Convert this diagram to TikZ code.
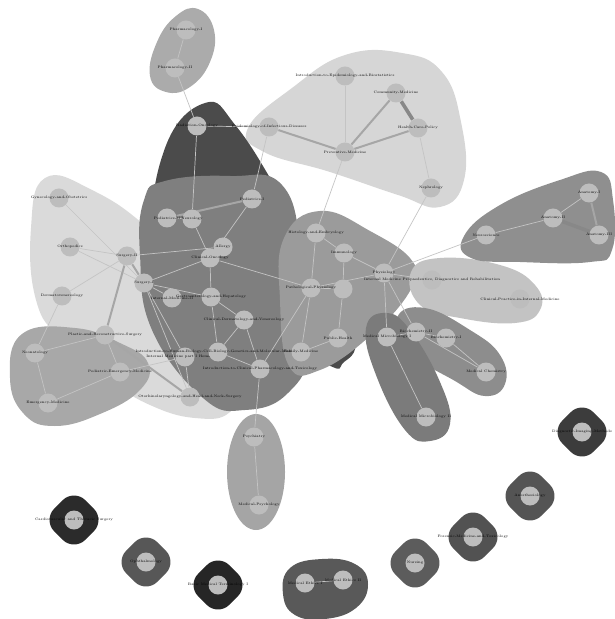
\documentclass[tikz,border=0pt]{standalone}
\usepackage{tikz}
\usetikzlibrary{positioning,shapes.geometric}
\definecolor{vtxgray}{HTML}{BDBDBD}
\definecolor{edgelight}{HTML}{C4C4C4}
\definecolor{edgemid}{HTML}{A6A6A6}
\definecolor{edgedark}{HTML}{888888}
\definecolor{blobPharm}{HTML}{ABABAB}
\definecolor{blobHealth}{HTML}{D6D6D6}
\definecolor{blobDark}{HTML}{4B4B4B}
\definecolor{blobSurg}{HTML}{DADADA}
\definecolor{blobClin}{HTML}{7F7F7F}
\definecolor{blobPhys}{HTML}{9B9B9B}
\definecolor{blobEmerg}{HTML}{A8A8A8}
\definecolor{blobIntern}{HTML}{C3C3C3}
\definecolor{blobAnat}{HTML}{8F8F8F}
\definecolor{blobMicro}{HTML}{7B7B7B}
\definecolor{blobChem}{HTML}{8D8D8D}
\definecolor{blobPsy}{HTML}{A5A5A5}
\pgfdeclarelayer{blobs}
\pgfdeclarelayer{links}
\pgfsetlayers{blobs,links,main}

\begin{document}
\begin{tikzpicture}[
        x=0.5pt, y=-0.5pt,
        vtx/.style={circle, fill=vtxgray, inner sep=0pt, minimum size=9.5pt},
        lbl/.style={font=\fontsize{1.75}{2}\selectfont, text=black, inner sep=0pt},
        blob/.style={smooth cycle, tension=0.75},
        single/.style={rectangle, rotate=45, rounded corners=8pt, minimum size=22pt},
        lnk/.style={draw=edgelight, line width=0.35pt},
        lnkmid/.style={draw=edgemid, line width=1pt},
        lnkthick/.style={draw=edgedark, line width=1.8pt}
    ]
        \useasboundingbox (0,0) rectangle (614,619);

        % Pharmacology
        \node[vtx, label={[lbl]center:Pharmacology-I}] (pharmI) at (186,30) {};
        \node[vtx, label={[lbl]center:Pharmacology-II}] (pharmII) at (175,68) {};

        % Public health
        \node[vtx, label={[lbl]center:Introduction-to-Epidemiology-and-Biostatistics}] (research) at (345,76) {};
        \node[vtx, label={[lbl]center:Community-Medicine}] (community) at (396,93) {};
        \node[vtx, label={[lbl]center:Health-Care-Policy}] (policy) at (418,128) {};
        \node[vtx, label={[lbl]center:Epidemiology-of-Infectious-Diseases}] (epiInf) at (269,127) {};
        \node[vtx, label={[lbl]center:Preventive-Medicine}] (preventive) at (345,152) {};
        \node[vtx, label={[lbl]center:Nephrology}] (nephro) at (431,188) {};

        % Radiation
        \node[vtx, label={[lbl]center:Radiation-Oncology}] (radOnc) at (197,126) {};

        % Surgery
        \node[vtx, label={[lbl]center:Gynecology-and-Obstetrics}] (gyn) at (59,198) {};
        \node[vtx, label={[lbl]center:Orthopedics}] (ortho) at (70,247) {};
        \node[vtx, label={[lbl]center:Surgery-II}] (surgII) at (127,256) {};
        \node[vtx, label={[lbl]center:Surgery-I}] (surgI) at (144,283) {};
        \node[vtx, label={[lbl]center:Dermatovenereology}] (derm) at (62,296) {};
        \node[vtx, label={[lbl]center:Internal-Medicine-II}] (intMedII) at (172,298) {};
        \node[vtx, label={[lbl]center:Plastic-and-Reconstructive-Surgery}] (plastic) at (105,335) {};
        \node[vtx, label={[lbl]center:Internal Medicine part I Hematology}] (intMedI) at (185,357) {};
        \node[vtx, label={[lbl]center:Otorhinolaryngology-and-Head-and-Neck-Surgery}] (otorhino) at (190,397) {};

        % Emergency
        \node[vtx, label={[lbl]center:Neonatology}] (neonat) at (35,353) {};
        \node[vtx, label={[lbl]center:Pediatric-Emergency-Medicine}] (pedEm) at (120,372) {};
        \node[vtx, label={[lbl]center:Emergency-Medicine}] (emerg) at (48,403) {};

        % Clinical
        \node[vtx, label={[lbl]center:Pediatrics-II}] (pedII) at (167,218) {};
        \node[vtx, label={[lbl]center:Neurology}] (neuro) at (192,219) {};
        \node[vtx, label={[lbl]center:Pediatrics-I}] (pedI) at (252,199) {};
        \node[vtx, label={[lbl]center:Allergy}] (allergy) at (223,247) {};
        \node[vtx, label={[lbl]center:Clinical-Oncology}] (clinOnc) at (210,258) {};
        \node[vtx, label={[lbl]center:Gastroenterology-and-Hepatology}] (gastro) at (211,297) {};
        \node[vtx, label={[lbl]center:Clinical-Dermatology-and-Venereology}] (clinDerm) at (244,320) {};
        \node[vtx, label={[lbl]center:Introduction-to-Human-Biology-Cell-Biology-Genetics-and-Molecular-Medicine}] (introBio) at (218,352) {};
        \node[vtx, label={[lbl]center:Introduction-to-Clinical-Pharmacology-and-Toxicology}] (clinPharm) at (260,369) {};

        % Physiology
        \node[vtx, label={[lbl]center:Histology-and-Embryology}] (histo) at (316,233) {};
        \node[vtx, label={[lbl]center:Immunology}] (immuno) at (344,253) {};
        \node[vtx, label={[lbl]center:Physiology}] (physio) at (384,273) {};
        \node[vtx] (pathoB) at (343,289) {};
        \node[vtx, label={[lbl]center:Pathological-Physiology}] (pathoPhys) at (311,288) {};
        \node[vtx, label={[lbl]center:Public-Health}] (pubHealth) at (338,338) {};
        \node[vtx, label={[lbl]center:Family-Medicine}] (famMed) at (301,352) {};

        % Internal medicine
        \node[vtx, label={[lbl]center:{Internal Medicine Propaedeutics, Diagnostics and Rehabilitation}}] (imDiag) at (432,280) {};
        \node[vtx, label={[lbl]center:Clinical-Practice-in-Internal-Medicine}] (clinPract) at (520,299) {};

        % Anatomy
        \node[vtx, label={[lbl]center:Neuroscience}] (neurosci) at (486,235) {};
        \node[vtx, label={[lbl]center:Anatomy-II}] (anatII) at (553,218) {};
        \node[vtx, label={[lbl]center:Anatomy-I}] (anatI) at (589,193) {};
        \node[vtx, label={[lbl]center:Anatomy-III}] (anatIII) at (599,235) {};

        % Microbiology and chemistry
        \node[vtx, label={[lbl]center:Biochemistry-II}] (bioII) at (416,332) {};
        \node[vtx, label={[lbl]center:Biochemistry-I}] (bioI) at (446,338) {};
        \node[vtx, label={[lbl]center:Medical Chemistry}] (medChem) at (486,372) {};
        \node[vtx, label={[lbl]center:Medical Microbiology I}] (microI) at (387,337) {};
        \node[vtx, label={[lbl]center:Medical Microbiology II}] (microII) at (426,417) {};

        % Psychiatry
        \node[vtx, label={[lbl]center:Psychiatry}] (psych) at (254,437) {};
        \node[vtx, label={[lbl]center:Medical-Psychology}] (medPsych) at (259,505) {};

        % Single courses
        \node[single, fill=blobDark!80!black] (diagBox) at (582,432) {};
        \node[vtx, label={[lbl]center:Diagnostic-Imaging-Methods}] (diag) at (582,432) {};
        \node[single, fill=black!67] (anestBox) at (530,496) {};
        \node[vtx, label={[lbl]center:Anesthesiology}] (anest) at (530,496) {};
        \node[single, fill=black!68] (forensBox) at (473,537) {};
        \node[vtx, label={[lbl]center:Forensic-Medicine-and-Toxicology}] (forens) at (473,537) {};
        \node[single, fill=black!64] (nursBox) at (415,563) {};
        \node[vtx, label={[lbl]center:Nursing}] (nursing) at (415,563) {};
        \node[single, fill=black!85] (basicBox) at (218,585) {};
        \node[vtx, label={[lbl]center:Basic Medical Terminology I}] (basic) at (218,585) {};
        \node[single, fill=black!66] (ophthBox) at (146,562) {};
        \node[vtx, label={[lbl]center:Ophthalmology}] (ophth) at (146,562) {};
        \node[single, fill=black!83] (cardioBox) at (74,520) {};
        \node[vtx, label={[lbl]center:Cardiovascular and Thoracic Surgery}] (cardio) at (74,520) {};

        % Ethics
        \node[vtx, label={[lbl]center:Medical Ethics I}] (ethI) at (305,583) {};
        \node[vtx, label={[lbl]center:Medical Ethics II}] (ethII) at (343,580) {};

        % Groups
        \begin{pgfonlayer}{blobs}
            \fill[blobPharm] plot[blob] coordinates {(198,9) (214,30) (210,62) (190,87) (166,92) (150,76) (157,42) (176,16)};
            \fill[blobHealth] plot[blob] coordinates {(248,128) (292,88) (345,55) (402,53) (442,72) (461,122) (464,180) (440,207) (398,195) (330,172) (264,152)};
            \fill[blobDark] plot[blob] coordinates {(205,103) (236,126) (280,195) (320,268) (354,333) (344,362) (318,360) (200,290) (156,238) (165,148)};
            \fill[blobSurg] plot[blob] coordinates {(45,178) (92,190) (150,230) (218,300) (240,378) (230,412) (195,418) (150,405) (110,380) (62,340) (36,300) (31,228)};
            \fill[blobClin] plot[blob] coordinates {(165,181) (230,176) (282,185) (302,255) (310,345) (288,393) (245,410) (203,398) (152,330) (140,255) (144,200)};
            \fill[blobPhys] plot[blob] coordinates {(320,211) (370,231) (413,262) (410,291) (370,336) (320,370) (289,366) (280,300) (284,238)};
            \fill[blobEmerg] plot[blob] coordinates {(22,334) (75,328) (120,343) (148,363) (140,390) (100,414) (55,426) (24,414) (10,378)};
            \fill[blobIntern] plot[blob] coordinates {(411,272) (440,258) (500,265) (535,285) (540,310) (515,323) (460,318) (420,305)};
            \fill[blobAnat] plot[blob] coordinates {(464,236) (500,205) (560,180) (601,172) (613,200) (612,250) (590,262) (520,262) (471,258)};
            \fill[blobChem] plot[blob] coordinates {(397,318) (425,308) (470,330) (500,355) (505,384) (485,396) (455,381) (410,352)};
            \fill[blobMicro] plot[blob] coordinates {(366,328) (386,313) (410,330) (440,382) (450,424) (430,441) (405,430) (376,375)};
            \fill[blobPsy] (256,472) ellipse [x radius=29, y radius=58];
            \fill[black!65] plot[blob] coordinates {(290,568) (322,559) (355,564) (368,584) (356,608) (325,619) (295,615) (283,594)};
        \end{pgfonlayer}

        % Links
        \begin{pgfonlayer}{links}
            \draw[lnk] (pharmI) -- (pharmII);
            \draw[lnk] (pharmII) -- (radOnc);
            \draw[lnk] (radOnc) -- (epiInf);
            \draw[lnk] (radOnc) -- (neuro);
            \draw[lnkmid] (epiInf) -- (preventive);
            \draw[lnk] (epiInf) -- (pedI);
            \draw[lnk] (research) -- (preventive);
            \draw[lnkmid] (community) -- (preventive);
            \draw[lnkthick] (community) -- (policy);
            \draw[lnkmid] (policy) -- (preventive);
            \draw[lnk] (policy) -- (nephro);
            \draw[lnk] (preventive) -- (histo);
            \draw[lnk] (nephro) -- (physio);
            \draw[lnk] (neurosci) -- (physio);
            \draw[lnk] (neurosci) -- (anatII);
            \draw[lnk] (anatII) -- (anatI);
            \draw[lnkthick] (anatII) -- (anatIII);
            \draw[lnkmid] (anatI) -- (anatIII);
            \draw[lnk] (imDiag) -- (clinPract);
            \draw[lnk] (physio) -- (imDiag);
            \draw[lnk] (physio) -- (bioII);
            \draw[lnk] (physio) -- (microI);
            \draw[lnk] (histo) -- (immuno);
            \draw[lnk] (histo) -- (pathoPhys);
            \draw[lnk] (immuno) -- (physio);
            \draw[lnk] (immuno) -- (pathoB);
            \draw[lnk] (pathoPhys) -- (pathoB);
            \draw[lnk] (pathoPhys) -- (physio);
            \draw[lnk] (pathoPhys) -- (famMed);
            \draw[lnk] (pathoB) -- (pubHealth);
            \draw[lnk] (pubHealth) -- (famMed);
            \draw[lnk] (pathoPhys) -- (clinPharm);
            \draw[lnk] (pathoPhys) -- (clinOnc);
            \draw[lnkmid] (pedII) -- (pedI);
            \draw[lnk] (pedII) -- (neuro);
            \draw[lnk] (neuro) -- (clinOnc);
            \draw[lnk] (allergy) -- (clinOnc);
            \draw[lnk] (clinOnc) -- (gastro);
            \draw[lnk] (clinOnc) -- (pedI);
            \draw[lnk] (gastro) -- (clinDerm);
            \draw[lnk] (clinDerm) -- (introBio);
            \draw[lnk] (introBio) -- (clinPharm);
            \draw[lnk] (clinDerm) -- (clinPharm);
            \draw[lnk] (gastro) -- (introBio);
            \draw[lnk] (clinPharm) -- (psych);
            \draw[lnk] (psych) -- (medPsych);
            \draw[lnk] (gyn) -- (surgI);
            \draw[lnk] (ortho) -- (surgII);
            \draw[lnk] (ortho) -- (surgI);
            \draw[lnkmid] (surgII) -- (surgI);
            \draw[lnkmid] (surgII) -- (plastic);
            \draw[lnk] (derm) -- (surgII);
            \draw[lnk] (derm) -- (neonat);
            \draw[lnk] (surgI) -- (intMedII);
            \draw[lnk] (surgI) -- (clinOnc);
            \draw[lnk] (surgII) -- (allergy);
            \draw[lnk] (surgI) -- (gastro);
            \draw[lnk] (surgI) -- (intMedI);
            \draw[lnk] (surgI) -- (otorhino);
            \draw[lnkmid] (plastic) -- (otorhino);
            \draw[lnk] (plastic) -- (neonat);
            \draw[lnk] (plastic) -- (pedEm);
            \draw[lnk] (neonat) -- (emerg);
            \draw[lnk] (emerg) -- (pedEm);
            \draw[lnk] (pedEm) -- (intMedI);
            \draw[lnk] (intMedI) -- (otorhino);
            \draw[lnk] (bioII) -- (bioI);
            \draw[lnk] (bioI) -- (medChem);
            \draw[lnk] (bioII) -- (medChem);
            \draw[lnk] (bioII) -- (microI);
            \draw[lnk] (microI) -- (microII);
            \draw[lnk] (ethI) -- (ethII);
        \end{pgfonlayer}
    \end{tikzpicture}
\end{document}
